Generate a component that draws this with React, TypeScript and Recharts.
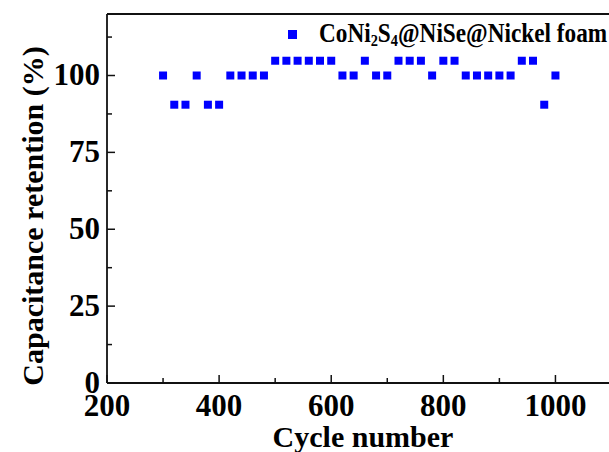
import { ScatterChart, Scatter, XAxis, YAxis, Legend, Label } from "recharts";

// cycle number (x) and capacitance retention in % (y)
const cycles = [
    300, 320, 340, 360, 380, 400, 420, 440, 460, 480, 500, 520, 540, 560, 580, 600, 620, 640,
    660, 680, 700, 720, 740, 760, 780, 800, 820, 840, 860, 880, 900, 920, 940, 960, 980, 1000,
];
const retention = [
    100, 90.5, 90.5, 100, 90.5, 90.5, 100, 100, 100, 100, 104.8, 104.8, 104.8, 104.8, 104.8, 104.8, 100, 100,
    104.8, 100, 100, 104.8, 104.8, 104.8, 100, 104.8, 104.8, 100, 100, 100, 100, 100, 104.8, 104.8, 90.5, 100,
];

const xTicks = [200, 300, 400, 500, 600, 700, 800, 900, 1000, 1100];
const xMajor = [200, 400, 600, 800, 1000];
const yTicks = [0, 12.5, 25, 37.5, 50, 62.5, 75, 87.5, 100, 112.5];
const yMajor = [0, 25, 50, 75, 100];

const data = cycles.map((c, i) => ({ cycle: c, retention: retention[i] }));

const SERIF = '"Liberation Serif", "Times New Roman", serif';
const BLUE = "#0000ff";
const AXIS = "#111";

const BottomTick = ({ x, y, payload }: any) => {
    const major = xMajor.includes(payload.value);
    return (
        <g>
            <line x1={x} y1={y} x2={x} y2={y - (major ? 8 : 5)} stroke={AXIS} strokeWidth={1.5} />
            {major && (
                <text x={x} y={y + 33} textAnchor="middle" fontFamily={SERIF} fontWeight="bold" fontSize={31} fill="#000">
                    {payload.value}
                </text>
            )}
        </g>
    );
};

const TopTick = ({ x, y, payload }: any) => {
    const major = xMajor.includes(payload.value);
    return <line x1={x} y1={y} x2={x} y2={y + (major ? 8 : 5)} stroke={AXIS} strokeWidth={1.5} />;
};

const LeftTick = ({ x, y, payload }: any) => {
    const major = yMajor.includes(payload.value);
    return (
        <g>
            <line x1={x} y1={y} x2={x + (major ? 8 : 5)} y2={y} stroke={AXIS} strokeWidth={1.5} />
            {major && (
                <text x={x - 7} y={y + 9.5} textAnchor="end" fontFamily={SERIF} fontWeight="bold" fontSize={31} fill="#000">
                    {payload.value}
                </text>
            )}
        </g>
    );
};

const LegendBox = () => (
    <div style={{ display: "flex", alignItems: "center", whiteSpace: "nowrap", fontFamily: SERIF, fontWeight: "bold", color: "#000" }}>
        <span style={{ display: "inline-block", width: 9, height: 9, background: BLUE }} />
        <span
            style={{
                display: "inline-block",
                marginLeft: 22,
                fontSize: 28,
                lineHeight: 1,
                transform: "scaleX(0.83)",
                transformOrigin: "left center",
            }}
        >
            CoNi<sub style={{ fontSize: "0.62em", verticalAlign: "-0.22em" }}>2</sub>S
            <sub style={{ fontSize: "0.62em", verticalAlign: "-0.22em" }}>4</sub>@NiSe@Nickel foam
        </span>
    </div>
);

export default function App() {
    return (
        <div style={{ position: "fixed", left: 0, top: 0, width: 609, height: 452, overflow: "hidden", background: "#fff" }}>
            <ScatterChart width={615} height={452} margin={{ top: 13, right: 3.5, bottom: 68, left: 106 }}>
                <XAxis
                    xAxisId="bottom"
                    type="number"
                    dataKey="cycle"
                    domain={[200, 1100]}
                    ticks={xTicks}
                    interval={0}
                    height={1}
                    tickSize={0}
                    tickMargin={0}
                    tickLine={false}
                    tick={<BottomTick />}
                    axisLine={{ stroke: AXIS, strokeWidth: 1.8 }}
                >
                    <Label
                        content={() => (
                            <text x={363} y={447} textAnchor="middle" fontFamily={SERIF} fontWeight="bold" fontSize={30} fill="#000">
                                Cycle number
                            </text>
                        )}
                    />
                </XAxis>
                <XAxis
                    xAxisId="top"
                    orientation="top"
                    type="number"
                    dataKey="cycle"
                    domain={[200, 1100]}
                    ticks={xTicks}
                    interval={0}
                    height={1}
                    tickSize={0}
                    tickMargin={0}
                    tickLine={false}
                    tick={<TopTick />}
                    axisLine={{ stroke: AXIS, strokeWidth: 1.8 }}
                />
                <YAxis
                    yAxisId="left"
                    type="number"
                    dataKey="retention"
                    domain={[0, 120]}
                    ticks={yTicks}
                    interval={0}
                    width={1}
                    tickSize={0}
                    tickMargin={0}
                    tickLine={false}
                    tick={<LeftTick />}
                    axisLine={{ stroke: AXIS, strokeWidth: 1.8 }}
                >
                    <Label
                        content={() => (
                            <text
                                x={43}
                                y={216}
                                transform="rotate(-90, 43, 216)"
                                textAnchor="middle"
                                fontFamily={SERIF}
                                fontWeight="bold"
                                fontSize={30}
                                fill="#000"
                            >
                                Capacitance retention (%)
                            </text>
                        )}
                    />
                </YAxis>
                <Legend
                    layout="horizontal"
                    verticalAlign="middle"
                    content={<LegendBox />}
                    wrapperStyle={{ left: 288, top: 19, width: "auto", height: "auto" }}
                />
                <Scatter
                    name="CoNi2S4@NiSe@Nickel foam"
                    data={data}
                    xAxisId="bottom"
                    yAxisId="left"
                    fill={BLUE}
                    shape="square"
                    isAnimationActive={false}
                />
            </ScatterChart>
        </div>
    );
}
